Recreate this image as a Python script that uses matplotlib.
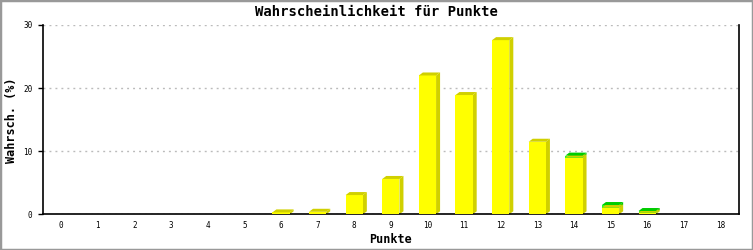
import matplotlib
matplotlib.use("Agg")
import matplotlib.pyplot as plt
from matplotlib.patches import Polygon, Rectangle

points = list(range(19))
tick_labels = [str(p) for p in points]
yellow_vals = [0, 0, 0, 0, 0, 0, 0.3, 0.4, 3.05, 5.6, 22.0, 18.9, 27.6, 11.5, 9.0, 1.05, 0.25, 0, 0]
green_vals = [0, 0, 0, 0, 0, 0, 0, 0, 0, 0, 0, 0, 0, 0, 0.3, 0.42, 0.27, 0, 0]

title = "Wahrscheinlichkeit für Punkte"
xlabel = "Punkte"
ylabel = "Wahrsch. (%)"
yticks = [0, 10, 20, 30]

mono = "DejaVu Sans Mono"

fig = plt.figure(figsize=(7.53, 2.5), dpi=100)
ax = fig.add_axes([43 / 753, 1 - 214.3 / 250, (738.7 - 43) / 753, (214.3 - 25) / 250])
ax.set_xlim(-0.5, 18.5)
ax.set_ylim(0, 30)

w = 0.47
dx = 4 / 36.58
dy = 3 / 6.31

series = [(yellow_vals, "#ffff00", "#d0d000", "#d0d000"),
          (green_vals, "#22ff22", "#00cc00", "#00cc00")]
bottoms = [0.0] * len(points)
for vals, front, side, topc in series:
    bars = ax.bar(points, vals, width=w, bottom=bottoms, color=front, linewidth=0, zorder=3)
    for b, v in zip(bars, vals):
        if v <= 0:
            continue
        x0 = b.get_x()
        x1 = x0 + b.get_width()
        y0 = b.get_y()
        y1 = y0 + b.get_height()
        ax.add_patch(Polygon([(x1, y0), (x1 + dx, y0 + dy), (x1 + dx, y1 + dy), (x1, y1)],
                             closed=True, facecolor=side, edgecolor="none", zorder=2))
        ax.add_patch(Polygon([(x0, y1), (x0 + dx, y1 + dy), (x1 + dx, y1 + dy), (x1, y1)],
                             closed=True, facecolor=topc, edgecolor="none", zorder=4))
    bottoms = [b + v for b, v in zip(bottoms, vals)]

ax.set_xticks(points)
ax.set_xticklabels(tick_labels, fontfamily=mono, fontsize=5.5)
ax.set_yticks(yticks)
ax.set_yticklabels([str(t) for t in yticks], fontfamily=mono, fontsize=5.5)
ax.tick_params(axis="x", length=0, pad=5)
ax.tick_params(axis="y", length=3.6, width=1, pad=4, color="black")

ax.yaxis.grid(True, color="#bbbbbb", linestyle=(0, (1.4, 2.9)), linewidth=1.0)
ax.set_axisbelow(True)
ax.spines["top"].set_visible(False)
for s in ("left", "right", "bottom"):
    ax.spines[s].set_color("black")
    ax.spines[s].set_linewidth(1.2)

ax.set_xlabel(xlabel, fontfamily=mono, fontweight="bold", fontsize=8.5, labelpad=2)
fig.text(12 / 753, 1 - 120 / 250, ylabel, rotation=90, ha="center", va="center",
         fontfamily=mono, fontweight="bold", fontsize=8.5)
fig.text(376 / 753, 1 - 12 / 250, title, ha="center", va="center",
         fontfamily=mono, fontweight="bold", fontsize=10)

fig.patches.append(Rectangle((0, 0), 1, 1, transform=fig.transFigure, fill=False,
                             edgecolor="#999999", linewidth=2.5))

fig.savefig("out.png", dpi=100)
